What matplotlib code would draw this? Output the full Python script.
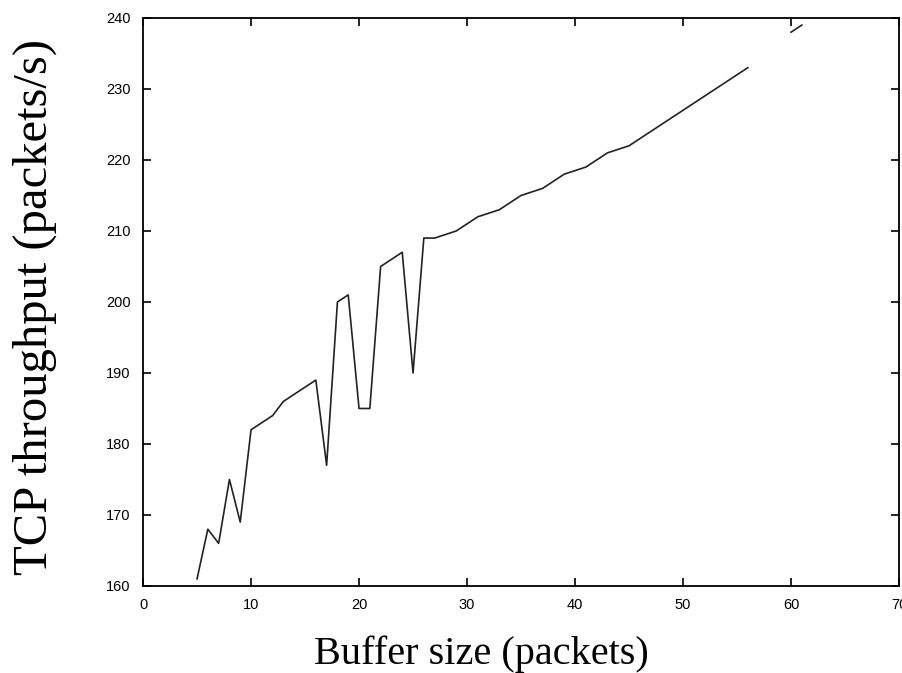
import numpy as np
import matplotlib
matplotlib.use("Agg")
import matplotlib.pyplot as plt

# buffer sizes (packets) and measured TCP throughput (packets/s)
# 57-59 are missing in the original trace -> gap in the line
buffer_size = list(range(5, 62))
throughput = [161, 168, 166, 175, 169, 182, 183, 184, 186, 187,
              188, 189, 177, 200, 201, 185, 185, 205, 206, 207,
              190, 209, 209, 209.5, 210, 211, 212, 212.5, 213, 214,
              215, 215.5, 216, 217, 218, 218.5, 219, 220, 221, 221.5,
              222, 223, 224, 225, 226, 227, 228, 229, 230, 231,
              232, 233, np.nan, np.nan, np.nan, 238, 239]

xticks = [0, 10, 20, 30, 40, 50, 60, 70]
yticks = [160, 170, 180, 190, 200, 210, 220, 230, 240]

fig = plt.figure(figsize=(9.03, 6.73), dpi=100)
ax = fig.add_axes([0.1584, 0.1293, 0.8372, 0.844])

ax.plot(buffer_size, throughput, color="#222222", linewidth=1.2)

ax.set_xlim(0, 70)
ax.set_ylim(160, 240)
ax.set_xticks(xticks)
ax.set_yticks(yticks)
ax.tick_params(direction="in", top=True, right=True, length=6, width=1.2,
               labelsize=10.5, pad=9)
for lbl in ax.get_xticklabels() + ax.get_yticklabels():
    lbl.set_family("Liberation Sans")
for s in ax.spines.values():
    s.set_linewidth(1.3)

ax.set_xlabel("Buffer size (packets)", family="Liberation Serif", fontsize=29,
              va="center")
ax.xaxis.set_label_coords(0.448, -0.121)
ax.set_ylabel("TCP throughput (packets/s)", family="Liberation Serif",
              fontsize=35, va="center")
ax.yaxis.set_label_coords(-0.143, 0.491)

fig.savefig("out.png", dpi=100)
